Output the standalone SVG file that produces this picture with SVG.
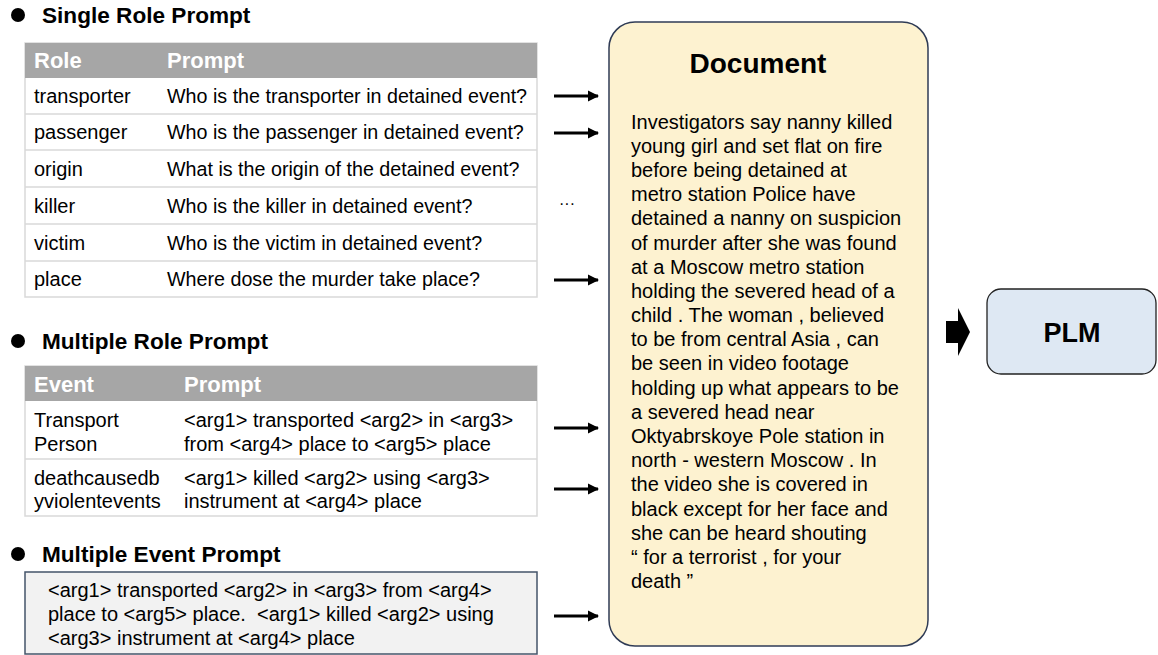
<svg xmlns="http://www.w3.org/2000/svg" width="1158" height="655" viewBox="0 0 1158 655">
<style>
  text { font-family: "Liberation Sans", Arial, sans-serif; fill: #000; }
  .title { font-size: 22.6px; font-weight: bold; }
  .hdr { font-size: 22px; font-weight: bold; fill: #fff; }
  .cell { font-size: 20px; }
  .q { font-size: 19.7px; }
  .doc { font-size: 20px; }
  .tbl { fill: #fff; stroke: #d9d9d9; stroke-width: 1.5; }
  .head { fill: #a6a6a6; }
  .sep { stroke: #d9d9d9; stroke-width: 1.5; }
  .arr { stroke: #000; stroke-width: 2.8; marker-end: url(#ah); }
</style>
<defs>
  <marker id="ah" viewBox="0 0 10 10" refX="9" refY="5" markerWidth="4" markerHeight="4" orient="auto" markerUnits="strokeWidth">
    <path d="M0,0 L10,5 L0,10 z" fill="#000"/>
  </marker>
</defs>
<rect width="1158" height="655" fill="#fff"/>

<g id="single-role">
  <circle cx="18" cy="15" r="7" fill="#000"/>
  <text class="title" x="42" y="23">Single Role Prompt</text>
  <rect class="tbl" x="25" y="43" width="512" height="254"/>
  <rect class="head" x="25" y="43" width="512" height="35"/>
  <text class="hdr" x="34" y="68">Role</text>
  <text class="hdr" x="167" y="68">Prompt</text>
  <line class="sep" x1="25" y1="114" x2="537" y2="114"/>
  <line class="sep" x1="25" y1="150" x2="537" y2="150"/>
  <line class="sep" x1="25" y1="187" x2="537" y2="187"/>
  <line class="sep" x1="25" y1="224" x2="537" y2="224"/>
  <line class="sep" x1="25" y1="261" x2="537" y2="261"/>
  <text class="cell" x="34" y="103">transporter</text>
  <text class="cell q" x="167" y="103">Who is the transporter in detained event?</text>
  <text class="cell" x="34" y="139">passenger</text>
  <text class="cell q" x="167" y="139">Who is the passenger in detained event?</text>
  <text class="cell" x="34" y="176">origin</text>
  <text class="cell q" x="167" y="176">What is the origin of the detained event?</text>
  <text class="cell" x="34" y="213">killer</text>
  <text class="cell q" x="167" y="213">Who is the killer in detained event?</text>
  <text class="cell" x="34" y="250">victim</text>
  <text class="cell q" x="167" y="250">Who is the victim in detained event?</text>
  <text class="cell" x="34" y="286">place</text>
  <text class="cell q" x="167" y="286">Where dose the murder take place?</text>
</g>

<g id="multiple-role">
  <circle cx="18" cy="341" r="7" fill="#000"/>
  <text class="title" x="42" y="349">Multiple Role Prompt</text>
  <rect class="tbl" x="25" y="366" width="512" height="150"/>
  <rect class="head" x="25" y="366" width="512" height="35"/>
  <text class="hdr" x="34" y="392">Event</text>
  <text class="hdr" x="184" y="392">Prompt</text>
  <line class="sep" x1="25" y1="459" x2="537" y2="459"/>
  <text class="cell" x="34" y="427">Transport</text>
  <text class="cell" x="34" y="451">Person</text>
  <text class="cell" x="184" y="427">&lt;arg1&gt; transported &lt;arg2&gt; in &lt;arg3&gt;</text>
  <text class="cell" x="184" y="451">from &lt;arg4&gt; place to &lt;arg5&gt; place</text>
  <text class="cell" x="34" y="485">deathcausedb</text>
  <text class="cell" x="34" y="508">yviolentevents</text>
  <text class="cell" x="184" y="485">&lt;arg1&gt; killed &lt;arg2&gt; using &lt;arg3&gt;</text>
  <text class="cell" x="184" y="508">instrument at &lt;arg4&gt; place</text>
</g>

<g id="multiple-event">
  <circle cx="18" cy="554" r="7" fill="#000"/>
  <text class="title" x="42" y="562">Multiple Event Prompt</text>
  <rect x="25" y="572" width="512" height="82" fill="#f2f2f2" stroke="#44546a" stroke-width="1.5"/>
  <text class="cell" x="48" y="597">&lt;arg1&gt; transported &lt;arg2&gt; in &lt;arg3&gt; from &lt;arg4&gt;</text>
  <text class="cell" x="48" y="621" xml:space="preserve">place to &lt;arg5&gt; place.  &lt;arg1&gt; killed &lt;arg2&gt; using</text>
  <text class="cell" x="48" y="645">&lt;arg3&gt; instrument at &lt;arg4&gt; place</text>
</g>

<g id="document">
  <rect x="609" y="22" width="319" height="624" rx="26" fill="#fdf2d0" stroke="#2f3b55" stroke-width="1.5"/>
  <text x="758" y="73" text-anchor="middle" font-size="28" font-weight="bold">Document</text>
  <text class="doc" x="631" y="129">Investigators say nanny killed</text>
  <text class="doc" x="631" y="153">young girl and set flat on fire</text>
  <text class="doc" x="631" y="177">before being detained at</text>
  <text class="doc" x="631" y="201">metro station Police have</text>
  <text class="doc" x="631" y="225">detained a nanny on suspicion</text>
  <text class="doc" x="631" y="250">of murder after she was found</text>
  <text class="doc" x="631" y="274">at a Moscow metro station</text>
  <text class="doc" x="631" y="298">holding the severed head of a</text>
  <text class="doc" x="631" y="322">child . The woman , believed</text>
  <text class="doc" x="631" y="346">to be from central Asia , can</text>
  <text class="doc" x="631" y="370">be seen in video footage</text>
  <text class="doc" x="631" y="395">holding up what appears to be</text>
  <text class="doc" x="631" y="419">a severed head near</text>
  <text class="doc" x="631" y="443">Oktyabrskoye Pole station in</text>
  <text class="doc" x="631" y="467">north - western Moscow . In</text>
  <text class="doc" x="631" y="491">the video she is covered in</text>
  <text class="doc" x="631" y="516">black except for her face and</text>
  <text class="doc" x="631" y="540">she can be heard shouting</text>
  <text class="doc" x="631" y="564">“ for a terrorist , for your</text>
  <text class="doc" x="631" y="588">death ”</text>
</g>

<g id="plm">
  <rect x="987" y="289" width="169" height="85" rx="14" fill="#dee8f3" stroke="#222" stroke-width="1.3"/>
  <text x="1072" y="342" text-anchor="middle" font-size="27" font-weight="bold">PLM</text>
</g>

<g id="connectors">
  <line class="arr" x1="554" y1="96" x2="598" y2="96"/>
  <line class="arr" x1="554" y1="133" x2="598" y2="133"/>
  <text x="559" y="209" font-size="16">···</text>
  <line class="arr" x1="554" y1="280" x2="598" y2="280"/>
  <line class="arr" x1="554" y1="428" x2="598" y2="428"/>
  <line class="arr" x1="554" y1="489" x2="598" y2="489"/>
  <line class="arr" x1="554" y1="616" x2="598" y2="616"/>
  <path d="M946,321 L958,321 L958,308 L970,332 L958,356 L958,343 L946,343 z" fill="#000"/>
</g>
</svg>
